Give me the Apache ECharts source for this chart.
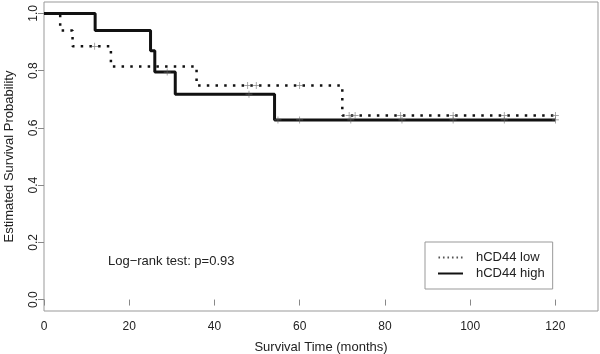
<!DOCTYPE html>
<html>
<head>
<meta charset="utf-8">
<script src="https://cdn.jsdelivr.net/npm/echarts@6/dist/echarts.min.js"></script>
<style>
  html, body { margin: 0; padding: 0; background: #fff; }
  #km-chart { width: 600px; height: 354px; }
</style>
</head>
<body>
<div id="km-chart"></div>
<script>
// Kaplan-Meier: hCD44 low vs high

// datos
const seriesNames = ["hCD44 low", "hCD44 high"];
const timeLow = [0, 3.8, 6.7, 15.7, 35.8, 70, 120];
const survLow = [1.0, 0.94, 0.885, 0.815, 0.748, 0.643, 0.643];
const timeHigh = [0, 12, 25, 26, 30.8, 54.1, 120];
const survHigh = [1.0, 0.94, 0.87, 0.795, 0.718, 0.628, 0.628];
// tiempos censurados (marcas +)
const censorLow = [11.9, 47.8, 49.8, 60, 71.6, 73, 83.7, 96, 108, 120];
const censorHigh = [28.9, 48.1, 54.9, 60, 72, 84, 96, 108, 120];
// etiquetas de los ejes
const xTicks = [0, 20, 40, 60, 80, 100, 120];
const yTicks = [0, 0.2, 0.4, 0.6, 0.8, 1.0];

const plusSymbol = "path://M0,4.5h10v1h-10zM4.5,0h1v10h-1z";
// iconos de la leyenda: puntos y línea continua
const dotsIcon = "path://M0,0h1.6v2h-1.6zM4.5,0h1.6v2h-1.6zM9,0h1.6v2h-1.6zM13.5,0h1.6v2h-1.6zM18,0h1.6v2h-1.6zM22.5,0h1.6v2h-1.6z";
const solidIcon = "path://M0,0h25v2h-25z";

// valor de la curva escalonada en el tiempo t
function stepValue(times, surv, t) {
  let v = surv[0];
  for (let i = 0; i < times.length; i++) {
    if (times[i] <= t) v = surv[i];
  }
  return v;
}

function pairs(times, surv) {
  return times.map((t, i) => [t, surv[i]]);
}

const chart = echarts.init(document.getElementById("km-chart"));

const option = {
  animation: false,
  textStyle: { fontFamily: "Liberation Sans, Arial, sans-serif" },
  grid: {
    left: 44,
    right: 2,
    top: 2,
    bottom: 43,
    show: true,
    borderColor: "#999",
    borderWidth: 1,
    containLabel: false,
    outerBoundsMode: "none",
  },
  xAxis: {
    type: "value",
    min: 0,
    max: 130,
    name: "Survival Time (months)",
    nameLocation: "middle",
    nameGap: 30,
    nameTextStyle: { fontSize: 13, color: "#222" },
    axisLine: { show: false },
    splitLine: { show: false },
    axisTick: {
      show: true,
      length: 6,
      customValues: xTicks,
      lineStyle: { color: "#888" },
    },
    axisLabel: {
      customValues: xTicks,
      fontSize: 12,
      color: "#222",
      margin: 10,
    },
  },
  yAxis: {
    type: "value",
    min: -0.04,
    max: 1.04,
    name: "Estimated Survival Probability",
    nameLocation: "middle",
    nameGap: 28,
    nameTextStyle: { fontSize: 13, color: "#222" },
    axisLine: { show: false },
    splitLine: { show: false },
    axisTick: {
      show: true,
      length: 6,
      customValues: yTicks,
      lineStyle: { color: "#888" },
    },
    axisLabel: {
      customValues: yTicks,
      fontSize: 12,
      color: "#222",
      rotate: 90,
      margin: 4,
      formatter: (v) => v.toFixed(1),
    },
  },
  legend: {
    left: 425,
    top: 242,
    orient: "vertical",
    data: [
      { name: seriesNames[0], icon: dotsIcon, itemStyle: { color: "#555" } },
      { name: seriesNames[1], icon: solidIcon, itemStyle: { color: "#111" } },
    ],
    itemWidth: 25,
    itemHeight: 2,
    itemGap: 3,
    borderColor: "#999",
    borderWidth: 1,
    borderRadius: 0,
    padding: [9, 8, 9, 13],
    textStyle: { fontSize: 13, color: "#222", padding: [0, 0, 0, 8] },
  },
  graphic: [
    {
      type: "text",
      left: 108,
      top: 255,
      style: {
        text: "Log\u2212rank test: p=0.93",
        fontSize: 13,
        fill: "#222",
        fontFamily: "Liberation Sans, Arial, sans-serif",
      },
    },
  ],
  series: [
    {
      name: seriesNames[0],
      type: "line",
      step: "end",
      symbol: "none",
      data: pairs(timeLow, survLow),
      lineStyle: { color: "#111", width: 2.5, type: [2.5, 6.2], cap: "butt" },
      itemStyle: { color: "#111" },
      z: 3,
    },
    {
      name: seriesNames[1],
      type: "line",
      step: "end",
      symbol: "none",
      data: pairs(timeHigh, survHigh),
      lineStyle: { color: "#111", width: 3 },
      itemStyle: { color: "#111" },
      z: 2,
    },
    {
      name: "censor low",
      type: "scatter",
      symbol: plusSymbol,
      symbolSize: 7,
      data: censorLow.map((t) => [t, stepValue(timeLow, survLow, t)]),
      itemStyle: { color: "#666" },
      z: 4,
    },
    {
      name: "censor high",
      type: "scatter",
      symbol: plusSymbol,
      symbolSize: 7,
      data: censorHigh.map((t) => [t, stepValue(timeHigh, survHigh, t)]),
      itemStyle: { color: "#666" },
      z: 4,
    },
  ],
};

chart.setOption(option);
</script>
</body>
</html>
